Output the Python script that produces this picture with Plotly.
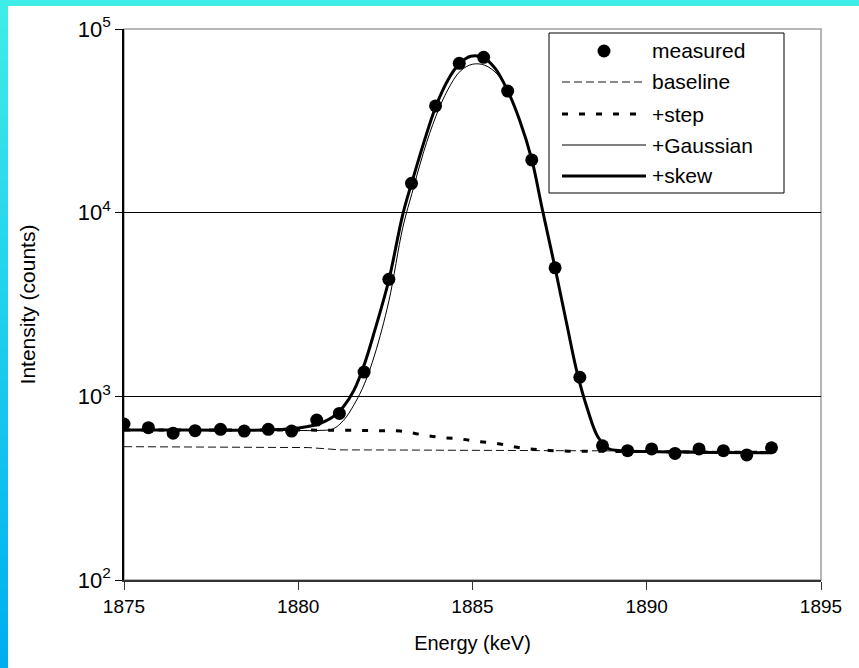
import plotly.graph_objects as go

# ---- measured spectrum (energy in keV, counts) ----
energy_meas = [1875.00, 1875.70, 1876.41, 1877.04, 1877.77, 1878.45, 1879.14, 1879.81,
               1880.53, 1881.18, 1881.89, 1882.60, 1883.25, 1883.94, 1884.62, 1885.32,
               1886.01, 1886.70, 1887.37, 1888.08, 1888.73, 1889.45, 1890.14, 1890.81,
               1891.50, 1892.20, 1892.87, 1893.58]
counts_meas = [707, 675, 630, 650, 661, 647, 661, 647,
               743, 807, 1356, 4336, 14450, 38100, 65000, 70100,
               45900, 19370, 5010, 1270, 538, 506, 517, 489,
               517, 506, 480, 525]

# ---- fit components ----
energy_base = [1875.0, 1877.0, 1879.0, 1880.3, 1880.8, 1881.2, 1883.0, 1886.0, 1889.0, 1891.0, 1893.58]
counts_base = [532, 530, 528, 526, 518, 511, 510, 509, 506, 503, 500]

energy_step = [1875.0, 1877.0, 1879.0, 1881.0, 1882.35, 1882.92, 1883.49, 1884.07, 1884.64,
               1885.17, 1885.79, 1886.36, 1886.94, 1887.51, 1888.1, 1888.65, 1890.0, 1891.5, 1893.58]
counts_step = [655, 655, 655, 654, 650, 648, 621, 598, 586,
               568, 550, 525, 512, 504, 503, 502, 500, 498, 495]

energy_gauss = [1875.0, 1877.0, 1879.0, 1880.0, 1880.6, 1881.0, 1881.3, 1881.6, 1881.9,
                1882.2, 1882.6, 1883.0, 1883.3, 1883.6, 1883.95, 1884.3, 1884.65, 1885.0,
                1885.35, 1885.7, 1886.0, 1886.35, 1886.7, 1887.0, 1887.37, 1887.7, 1888.0,
                1888.3, 1888.6, 1888.9, 1889.3, 1890.0, 1891.0, 1892.0, 1893.58]
counts_gauss = [655, 655, 655, 652, 652, 665, 740, 900, 1170,
                1700, 3300, 8300, 13500, 21500, 33500, 47000, 59000, 64300,
                63500, 57000, 46000, 32000, 19500, 10500, 5000, 2500, 1350,
                850, 600, 520, 505, 500, 497, 495, 493]

energy_skew = [1875.0, 1877.0, 1879.0, 1879.5, 1880.0, 1880.5, 1881.0, 1881.3, 1881.6,
               1881.9, 1882.2, 1882.6, 1883.0, 1883.3, 1883.6, 1883.95, 1884.3, 1884.6,
               1884.95, 1885.3, 1885.65, 1886.0, 1886.35, 1886.7, 1887.0, 1887.37, 1887.7,
               1888.0, 1888.3, 1888.6, 1888.9, 1889.3, 1890.0, 1891.0, 1892.0, 1893.58]
counts_skew = [655, 655, 655, 660, 672, 700, 775, 880, 1080,
               1500, 2300, 4300, 9800, 15500, 24000, 38000, 53000, 64000,
               71000, 70000, 61000, 46500, 32000, 19500, 10500, 5000, 2500,
               1350, 850, 600, 520, 505, 500, 497, 495, 493]

x_ticks = [1875, 1880, 1885, 1890, 1895]
y_ticks = [100, 1000, 10000, 100000]
y_tick_text = ["10<sup>2</sup>", "10<sup>3</sup>", "10<sup>4</sup>", "10<sup>5</sup>"]

legend_labels = ["measured", "baseline", "+step", "+Gaussian", "+skew"]

# ---- page geometry (pixels) ----
W, H = 859, 668
PL, PR, PT, PB = 124, 821, 29, 580   # plot area edges
FONT = "Arial, Liberation Sans, sans-serif"


def fx(px):
    return (px - PL) / (PR - PL)


def fy(py):
    return (PB - py) / (PB - PT)


fig = go.Figure()

fig.add_trace(go.Scatter(x=energy_base, y=counts_base, mode="lines",
                         line=dict(color="#111", width=1, dash="8px,4px"),
                         name=legend_labels[1], showlegend=False))
fig.add_trace(go.Scatter(x=energy_step, y=counts_step, mode="lines", line_shape="spline",
                         line=dict(color="black", width=3, dash="6px,11px"),
                         name=legend_labels[2], showlegend=False))
fig.add_trace(go.Scatter(x=energy_gauss, y=counts_gauss, mode="lines", line_shape="spline",
                         line=dict(color="black", width=1),
                         name=legend_labels[3], showlegend=False))
fig.add_trace(go.Scatter(x=energy_skew, y=counts_skew, mode="lines", line_shape="spline",
                         line=dict(color="black", width=3),
                         name=legend_labels[4], showlegend=False))
fig.add_trace(go.Scatter(x=energy_meas, y=counts_meas, mode="markers",
                         marker=dict(color="black", size=13),
                         name=legend_labels[0], showlegend=False))

shapes = []

# coloured frame along the top and left edges of the page
shapes.append(dict(type="rect", xref="paper", yref="paper", layer="above",
                   x0=fx(0), x1=fx(W), y0=fy(0), y1=fy(6),
                   fillcolor="rgb(62,236,232)", line=dict(width=0)))
n_steps = 60
c_top = (62, 236, 232)
c_bot = (0, 174, 240)
for i in range(n_steps):
    t = i / (n_steps - 1)
    col = tuple(round(a + (b - a) * t) for a, b in zip(c_top, c_bot))
    y_a = 6 + (H - 6) * i / n_steps
    y_b = 6 + (H - 6) * (i + 1) / n_steps
    shapes.append(dict(type="rect", xref="paper", yref="paper", layer="above",
                       x0=fx(0), x1=fx(8), y0=fy(y_a - 0.5), y1=fy(y_b + 0.5),
                       fillcolor="rgb(%d,%d,%d)" % col, line=dict(width=0)))

# plot-area border (top/right in grey)
shapes.append(dict(type="rect", xref="paper", yref="paper", layer="below",
                   x0=0, x1=1, y0=0, y1=1, line=dict(color="#a0a0a0", width=1.5)))

# legend box and its samples
LX0, LX1, LY0, LY1 = 549, 784, 33, 193
shapes.append(dict(type="rect", xref="paper", yref="paper", layer="above",
                   x0=fx(LX0), x1=fx(LX1), y0=fy(LY1), y1=fy(LY0),
                   fillcolor="white", line=dict(color="black", width=1)))
row_y = [51, 82, 114, 145, 176]
sx0, sx1 = 562, 646
shapes.append(dict(type="circle", xref="paper", yref="paper", layer="above",
                   x0=fx(604 - 6.5), x1=fx(604 + 6.5), y0=fy(row_y[0] + 6.5), y1=fy(row_y[0] - 6.5),
                   fillcolor="black", line=dict(color="black", width=0)))
sample_styles = [
    dict(color="#111", width=1, dash="8px,4px"),
    dict(color="black", width=3, dash="6px,11px"),
    dict(color="black", width=1),
    dict(color="black", width=3),
]
for yy, st in zip(row_y[1:], sample_styles):
    shapes.append(dict(type="line", xref="paper", yref="paper", layer="above",
                       x0=fx(sx0), x1=fx(sx1), y0=fy(yy), y1=fy(yy), line=st))

annotations = []
for yy, lab in zip(row_y, legend_labels):
    annotations.append(dict(xref="paper", yref="paper", x=fx(650), y=fy(yy),
                            xanchor="left", yanchor="middle", text=lab, showarrow=False,
                            font=dict(family=FONT, size=21, color="black")))

fig.update_layout(
    width=W, height=H,
    margin=dict(l=PL, r=W - PR, t=PT, b=H - PB, pad=0),
    paper_bgcolor="white", plot_bgcolor="white",
    showlegend=False,
    shapes=shapes, annotations=annotations,
    font=dict(family=FONT, size=19, color="black"),
    xaxis=dict(range=[1875, 1895], tickvals=x_ticks, ticks="outside", ticklen=8,
               tickcolor="#333", showline=True, linecolor="#333", linewidth=1.5,
               showgrid=False, zeroline=False,
               tickfont=dict(family=FONT, size=19),
               title=dict(text="Energy (keV)", font=dict(family=FONT, size=20), standoff=20)),
    yaxis=dict(type="log", range=[2, 5], tickvals=y_ticks, ticktext=y_tick_text,
               ticks="outside", ticklen=7, tickcolor="black",
               showline=True, linecolor="black", linewidth=1.5,
               showgrid=True, gridcolor="black", gridwidth=1, zeroline=False,
               tickfont=dict(family=FONT, size=22),
               title=dict(text="Intensity (counts)", font=dict(family=FONT, size=21), standoff=36)),
)

fig.write_html("out.html")
